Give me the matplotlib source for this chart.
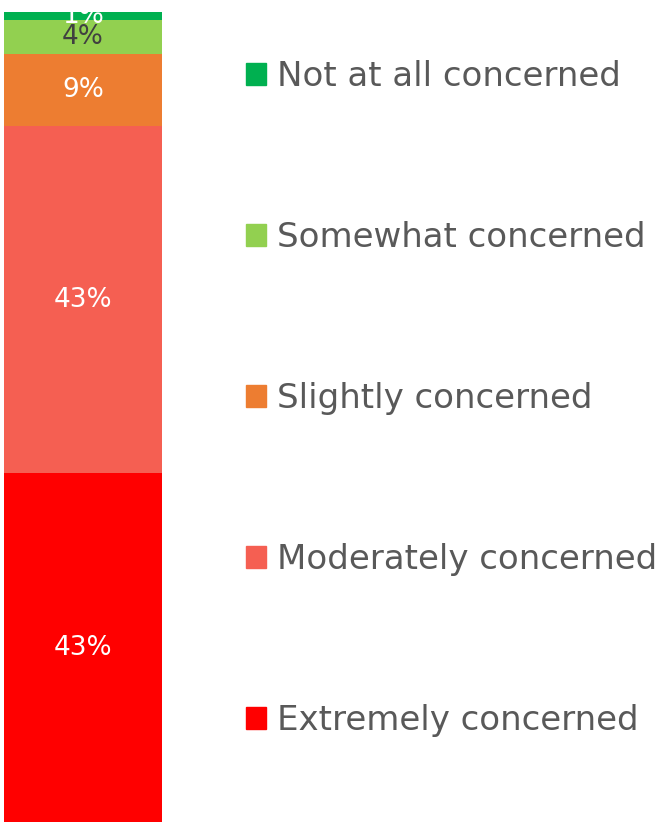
import matplotlib.pyplot as plt
from matplotlib.patches import Patch

categories = ['Extremely concerned', 'Moderately concerned', 'Slightly concerned',
              'Somewhat concerned', 'Not at all concerned']
values = [43.1, 42.8, 9.0, 4.1, 1.0]
labels = ['43%', '43%', '9%', '4%', '1%']
colors = ['#FF0000', '#F55F52', '#ED7D31', '#92D050', '#00B050']
label_colors = ['white', 'white', 'white', '#404040', 'white']

plt.rcParams['font.family'] = ['DejaVu Sans']

fig = plt.figure(figsize=(6.67, 8.22), dpi=100)
ax = fig.add_axes([0.006, 0.0, 0.237, 0.985])

bottom = 0
for v, c, lab, lc in zip(values, colors, labels, label_colors):
    ax.bar(0, v, bottom=bottom, width=1, color=c, linewidth=0)
    ax.text(0, bottom + v / 2, lab, ha='center', va='center', color=lc,
            fontsize=19, clip_on=False)
    bottom += v

ax.set_xlim(-0.5, 0.5)
ax.set_ylim(0, 100)
ax.axis('off')

handles = [Patch(color=c) for c in colors][::-1]
fig.legend(handles, categories[::-1], loc='center left',
           bbox_to_anchor=(246 / 667, 1 - 398.5 / 822), frameon=False,
           fontsize=24.5, labelcolor='#595959', borderpad=0, borderaxespad=0,
           handlelength=0.6, handleheight=0.6, handletextpad=0.3,
           labelspacing=3.76)

fig.savefig('out.png', dpi=100)
